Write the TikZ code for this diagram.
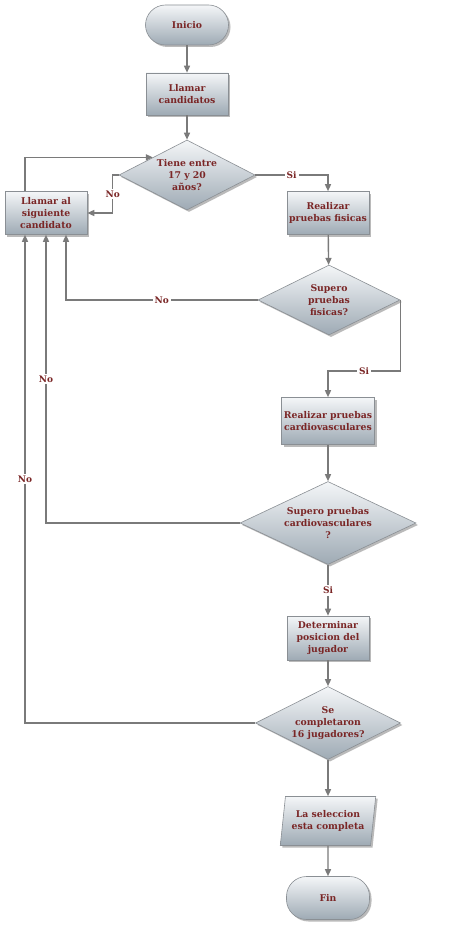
\documentclass[tikz,border=0pt]{standalone}
\usepackage{xcolor}
\usepackage{fontspec}
\setmainfont{DejaVu Serif}
\usetikzlibrary{arrows.meta,shapes.geometric,shadows}
\definecolor{txtred}{HTML}{7A2626}
\definecolor{boxtop}{HTML}{F4F6F8}
\definecolor{boxbot}{HTML}{9EAAB4}
\definecolor{boxline}{HTML}{8A8F94}
\definecolor{linegray}{HTML}{7A7A7A}

\begin{document}
\begin{tikzpicture}[
  x=1pt, y=-1pt,
  >={Triangle[length=7pt,width=6pt]},
  base/.style={draw=boxline, line width=0.6pt, top color=boxtop, bottom color=boxbot, text=txtred, align=center, font=\fontsize{9.3}{11.8}\selectfont\bfseries, inner sep=0pt,
    drop shadow={shadow xshift=2pt, shadow yshift=-2pt, fill=black!60, opacity=.45}},
  term/.style={base, rectangle, rounded corners=20pt, minimum width=83pt, minimum height=40pt},
  proc/.style={base, rectangle, minimum width=82pt, minimum height=42pt},
  decision/.style={base, diamond, aspect=2, inner sep=-3pt},
  io/.style={base, trapezium, trapezium left angle=78, trapezium right angle=102, trapezium stretches=true, minimum width=96pt, minimum height=49pt},
  flow/.style={->, draw=linegray, line width=1.4pt},
  lbl/.style={fill=white, text=txtred, font=\fontsize{9}{11}\selectfont\bfseries, inner sep=2pt}
]
  \useasboundingbox[fill=white] (0,0) rectangle (466,936);

  % main column
  \node[term] (ini) at (187,25) {Inicio};
  \node[proc] (llam) at (187,94) {Llamar\\candidatos};
  \node[decision, aspect=1.94, minimum width=136pt, minimum height=70pt] (d1) at (187,175) {Tiene entre\\17 y 20\\años?};
  \node[proc, minimum height=43pt] (sig) at (46,213) {Llamar al\\siguiente\\candidato};
  \node[proc, minimum height=43pt] (fis) at (328,213) {Realizar\\pruebas fisicas};
  \node[decision, aspect=2.03, minimum width=142pt, minimum height=70pt] (d2) at (329,300) {Supero\\pruebas\\fisicas?};
  \node[proc, minimum width=93pt, minimum height=47pt] (car) at (328,421) {Realizar pruebas\\cardiovasculares};
  \node[decision, aspect=2.12, minimum width=176pt, minimum height=83pt] (d3) at (328,523) {Supero pruebas\\cardiovasculares\\?};
  \node[proc, minimum height=44pt] (det) at (328,638) {Determinar\\posicion del\\jugador};
  \node[decision, aspect=1.99, minimum width=145pt, minimum height=73pt] (d4) at (328,723) {Se\\completaron\\16 jugadores?};
  \node[io] (sel) at (328,821) {La seleccion\\esta completa};
  \node[term, minimum height=43pt] (fin) at (328,898) {Fin};

  % return points on Llamar al siguiente candidato
  \coordinate (r4) at ([xshift=-21pt]sig.south);
  \coordinate (r3) at (sig.south);
  \coordinate (r2) at ([xshift=20pt]sig.south);

  \draw[flow] (ini) -- (llam);
  \draw[flow] (llam) -- (d1);
  \draw[flow] (d1.east) -| node[lbl, pos=.25] {Si} (fis.north);
  \draw[flow] (d1.west) -- ++(-6,0) |- node[lbl, pos=.25] {No} (sig.east);
  \draw[flow] ([xshift=-21pt]sig.north) |- (d1.north west);
  \draw[flow] (fis) -- (d2);
  \draw[flow] (d2.west) -| node[lbl, pos=.25] {No} (r2);
  \draw[flow] (d2.east) -- ++(0,71) -| node[lbl, pos=.25] {Si} (car.north);
  \draw[flow] (car) -- (d3);
  \draw[flow] (d3.west) -| node[lbl, pos=.75] {No} (r3);
  \draw[flow] (d3) -- node[lbl] {Si} (det);
  \draw[flow] (det) -- (d4);
  \draw[flow] (d4.west) -| node[lbl, pos=.75] {No} (r4);
  \draw[flow] (d4) -- (sel);
  \draw[flow] (sel) -- (fin);
\end{tikzpicture}
\end{document}
